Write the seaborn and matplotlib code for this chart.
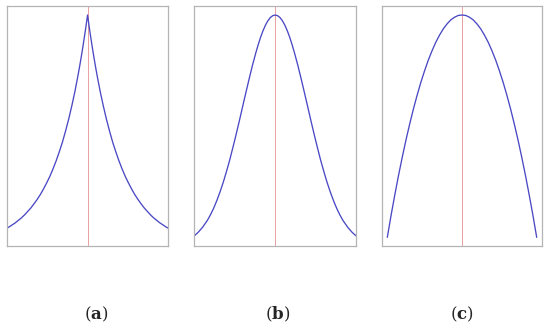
import matplotlib
matplotlib.use("Agg")
import matplotlib.pyplot as plt
import seaborn as sns

sns.set_style("white")
plt.rcParams["mathtext.fontset"] = "custom"
plt.rcParams["mathtext.rm"] = "DejaVu Serif"
plt.rcParams["mathtext.bf"] = "DejaVu Serif:bold"

# Values (right half of each symmetric curve, from the centre outwards)
# (a) Laplace-like kernel
xa_half = [0.0, 0.05, 0.1, 0.15, 0.2, 0.25, 0.3, 0.4, 0.5, 0.6, 0.7, 0.8, 0.9, 1.0, 1.1, 1.2, 1.3,
           1.4, 1.5, 1.6, 1.7, 1.8, 1.9, 2.0, 2.1, 2.2, 2.3, 2.4, 2.5, 2.57]
ya_half = [1.000, 0.951, 0.905, 0.861, 0.819, 0.779, 0.741, 0.670, 0.607, 0.549, 0.497, 0.449, 0.407,
           0.368, 0.333, 0.301, 0.273, 0.247, 0.223, 0.202, 0.183, 0.165, 0.150, 0.135, 0.122, 0.111,
           0.100, 0.091, 0.082, 0.077]

# (b) Gaussian-like kernel
xb_half = [0.0, 0.075, 0.15, 0.225, 0.3, 0.375, 0.45, 0.525, 0.6, 0.7, 0.8, 0.9, 1.0, 1.1, 1.2, 1.3,
           1.4, 1.5, 1.6, 1.7, 1.8, 1.9, 2.0, 2.1, 2.25, 2.375, 2.5]
yb_half = [1.000, 0.997, 0.989, 0.975, 0.956, 0.932, 0.904, 0.871, 0.835, 0.783, 0.726, 0.667, 0.607,
           0.546, 0.487, 0.430, 0.375, 0.325, 0.278, 0.236, 0.198, 0.164, 0.135, 0.110, 0.080, 0.060,
           0.044]

# (c) Parabolic kernel
xc_half = [0.0, 0.05, 0.1, 0.15, 0.2, 0.25, 0.3, 0.35, 0.4, 0.45, 0.5, 0.55, 0.6, 0.65, 0.7, 0.75,
           0.8, 0.85, 0.9, 0.95, 1.0]
yc_half = [1.000, 0.998, 0.990, 0.978, 0.960, 0.938, 0.910, 0.878, 0.840, 0.798, 0.750, 0.698, 0.640,
           0.578, 0.510, 0.438, 0.360, 0.278, 0.190, 0.098, 0.000]

labels = ["a", "b", "c"]
centers = [0.0, 0.0, 0.0]


def mirror(xh, yh):
    x = [-v for v in reversed(xh)] + list(xh[1:])
    y = list(reversed(yh)) + list(yh[1:])
    return x, y


data = [mirror(xa_half, ya_half), mirror(xb_half, yb_half), mirror(xc_half, yc_half)]

W, H = 550, 335
fig = plt.figure(figsize=(5.5, 3.35), dpi=100)

boxes = [(6.7, 168.4), (194.3, 356.0), (382.3, 541.7)]
top_px, bot_px = 6.0, 246.0
xlims = [(-2.57, 2.57), (-2.5, 2.5), (-1.067, 1.067)]
ylims = [(0.0, 1.039), (0.0, 1.039), (-0.0391, 1.0405)]
label_x = [96, 278, 462]

for i in range(3):
    l, r = boxes[i]
    ax = fig.add_axes([l / W, (H - bot_px) / H, (r - l) / W, (bot_px - top_px) / H])
    x, y = data[i]
    ax.axvline(centers[i], color="#eba0a0", lw=0.7, zorder=1)
    sns.lineplot(x=x, y=y, ax=ax, color="#4a48c4", lw=0.95, sort=False, zorder=2)
    ax.set_xlim(*xlims[i])
    ax.set_ylim(*ylims[i])
    ax.set_xticks([])
    ax.set_yticks([])
    ax.set_xlabel("")
    ax.set_ylabel("")
    for s in ax.spines.values():
        s.set_color("#b4b4b4")
        s.set_linewidth(0.9)
    fig.text(label_x[i] / W, (H - 314) / H, "($\\mathbf{%s}$)" % labels[i],
             ha="center", va="center", fontsize=12, family="DejaVu Serif")

fig.savefig("out.png", dpi=100)
